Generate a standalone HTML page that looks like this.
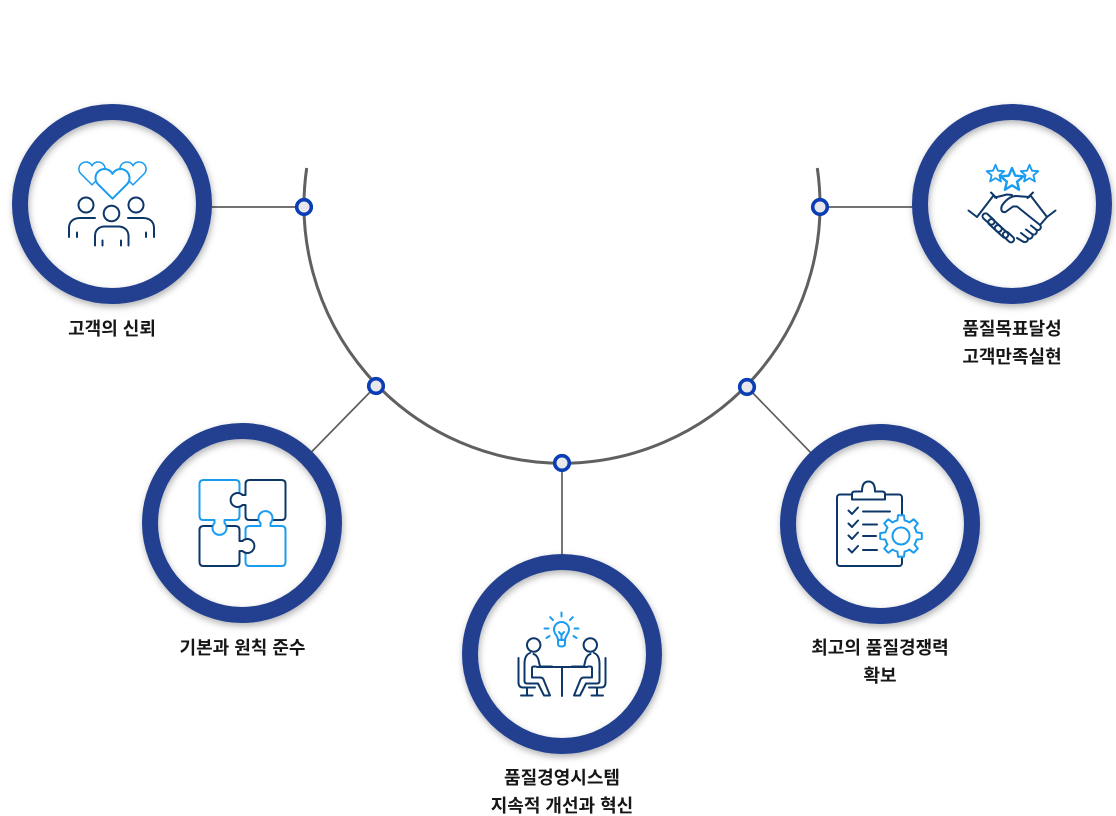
<!DOCTYPE html>
<html>
<head>
<meta charset="utf-8">
<style>
  html,body{margin:0;padding:0;background:#fff;}
  body{width:1116px;height:816px;overflow:hidden;}
  svg{display:block;}
  .lbl{font-family:"Liberation Sans","Noto Sans CJK KR",sans-serif;font-weight:700;font-size:18px;fill:#161616;}
  .nv{fill:none;stroke:#0d3768;stroke-width:2;stroke-linecap:round;stroke-linejoin:round;}
  .bl{fill:none;stroke:#1a9cf0;stroke-width:2;stroke-linecap:round;stroke-linejoin:round;}
</style>
</head>
<body>
<svg width="1116" height="816" viewBox="0 0 1116 816" xmlns="http://www.w3.org/2000/svg">
  <defs>
    <filter id="sh" x="-25%" y="-25%" width="150%" height="150%">
      <feDropShadow dx="1" dy="3" stdDeviation="3.5" flood-color="#000" flood-opacity="0.3"/>
    </filter>
    <path id="heart" d="M0,29.7 L-14.36,15.36 A9,9 0 1 1 0,4.88 A9,9 0 1 1 14.36,15.36 Z"/>
    <path id="star" d="M0,-10 L2.65,-3.64 L9.51,-3.09 L4.28,1.39 L5.88,8.09 L0,4.5 L-5.88,8.09 L-4.28,1.39 L-9.51,-3.09 L-2.65,-3.64 Z"/>
  </defs>

  <!-- main arc -->
  <path d="M306.7,168 A258,258 0 1 0 817.3,168" fill="none" stroke="#606060" stroke-width="3"/>

  <!-- connectors -->
  <g stroke="#5e5e5e" stroke-width="1.7" fill="none">
    <line x1="150" y1="207" x2="304" y2="207"/>
    <line x1="820" y1="207" x2="990" y2="207"/>
    <line x1="376" y1="386" x2="242" y2="523"/>
    <line x1="747" y1="387" x2="880" y2="524"/>
    <line x1="562" y1="463" x2="562" y2="600"/>
  </g>

  <!-- circles -->
  <g>
    <circle cx="112" cy="204" r="90" fill="#fff"/>
    <circle cx="112" cy="204" r="92" fill="none" stroke="#213f8f" stroke-width="16" filter="url(#sh)"/>
    <circle cx="1012" cy="204" r="90" fill="#fff"/>
    <circle cx="1012" cy="204" r="92" fill="none" stroke="#213f8f" stroke-width="16" filter="url(#sh)"/>
    <circle cx="242" cy="523" r="90" fill="#fff"/>
    <circle cx="242" cy="523" r="92" fill="none" stroke="#213f8f" stroke-width="16" filter="url(#sh)"/>
    <circle cx="562" cy="654" r="90" fill="#fff"/>
    <circle cx="562" cy="654" r="92" fill="none" stroke="#213f8f" stroke-width="16" filter="url(#sh)"/>
    <circle cx="880" cy="524" r="90" fill="#fff"/>
    <circle cx="880" cy="524" r="92" fill="none" stroke="#213f8f" stroke-width="16" filter="url(#sh)"/>
  </g>

  <!-- dots -->
  <g fill="#e8e8ec" stroke="#0b3db4" stroke-width="3.6">
    <circle cx="304" cy="207" r="7.3"/>
    <circle cx="820" cy="207" r="7.3"/>
    <circle cx="376" cy="386" r="7.3"/>
    <circle cx="747" cy="387" r="7.3"/>
    <circle cx="562" cy="463" r="7.3"/>
  </g>

  <!-- Icon 1: people & hearts -->
  <g>
    <use href="#heart" class="bl" style="fill:#fff" transform="translate(92,162) scale(0.77)" stroke-width="2.6"/>
    <use href="#heart" class="bl" style="fill:#fff" transform="translate(133,162) scale(0.77)" stroke-width="2.6"/>
    <use href="#heart" class="bl" style="fill:#fff" transform="translate(112.5,169)"/>
    <circle class="nv" cx="86" cy="205" r="7.5"/>
    <circle class="nv" cx="136" cy="205" r="7.5"/>
    <circle class="nv" cx="111.5" cy="213.5" r="7.8"/>
    <path class="nv" d="M69,237 V228 C69,222 73,218 80,218 H95"/>
    <path class="nv" d="M154,237 V228 C154,222 150,218 143,218 H128"/>
    <path class="nv" d="M95,245.5 V236 C95,230 99,226.5 105,226.5 H118 C124,226.5 128.5,230 128.5,236 V245.5"/>
    <path class="nv" d="M77,232.5 V237 M146,232.5 V237 M102.5,240.5 V245.5 M121,240.5 V245.5"/>
  </g>

  <!-- Icon 2: handshake & stars -->
  <g>
    <use href="#star" class="bl" transform="translate(995.5,174) scale(0.92)" stroke-width="2.2"/>
    <use href="#star" class="bl" transform="translate(1029.5,174) scale(0.92)" stroke-width="2.2"/>
    <use href="#star" class="bl" transform="translate(1012,180) scale(1.2)" stroke-width="1.7"/>
    <path class="nv" d="M968.5,210.5 L977,217 L993.5,195.5 M991,192.5 L996.5,198"/>
    <path class="nv" d="M1055.5,210.5 L1047,217 L1030.5,195.5 M1033,192.5 L1027.5,198"/>
    <path class="nv" d="M995,197.5 L1007,194.5 L1012,195"/>
    <path class="nv" d="M1029,197 L1016,196 C1011,196 1007,199 1003,204 C1000,208 1001,213 1005.5,212 L1013,206.5 L1017,206.5 L1040,225 C1042.5,228 1039,231.5 1036,229.5 L1031,225.5 M1036,229.5 C1038.5,232.5 1035,236 1032,234 L1026,229.5 M1032,234 C1034,237 1030.5,240 1027.5,238 L1021,233 M1027.5,238 C1029,241 1025.5,243.5 1022,241 L1017,238"/>
    <path class="nv" d="M1040,225 L1047,217"/>
    <rect class="nv" x="-7" y="-3" width="14" height="6" rx="3" transform="translate(988.5,219) rotate(42)"/>
    <rect class="nv" x="-8" y="-3" width="16" height="6" rx="3" transform="translate(995,225.5) rotate(42)"/>
    <rect class="nv" x="-8" y="-3" width="16" height="6" rx="3" transform="translate(1001.5,231.5) rotate(42)"/>
    <rect class="nv" x="-6.5" y="-3" width="13" height="6" rx="3" transform="translate(1008.5,237) rotate(42)"/>
  </g>

  <!-- Icon 3: puzzle -->
  <g transform="translate(199.5,480)">
    <path class="bl" d="M40,28 V36 Q40,40 36,40 H25 V43 A7,7 0 1 1 15,43 V40 H4 Q0,40 0,36 V4 Q0,0 4,0 H36 Q40,0 40,4 V12"/>
    <path class="nv" d="M74,40 H82 Q86,40 86,36 V4 Q86,0 82,0 H50 Q46,0 46,4 V15 H43 A7,7 0 1 0 43,25 H46 V36 Q46,40 50,40 H58"/>
    <path class="bl" d="M46,74 V82 Q46,86 50,86 H82 Q86,86 86,82 V50 Q86,46 82,46 H71 V43 A7,7 0 1 0 61,43 V46 H50 Q46,46 46,50 V58"/>
    <path class="nv" d="M28,46 H36 Q40,46 40,50 V61 H43 A7,7 0 1 1 43,71 H40 V82 Q40,86 36,86 H4 Q0,86 0,82 V50 Q0,46 4,46 H12"/>
  </g>

  <!-- Icon 4: meeting -->
  <g>
    <path class="bl" d="M558,640 C558,636 554,634 554,629.5 A7.5,7.5 0 1 1 569,629.5 C569,634 565,636 565,640 Z"/>
    <path class="bl" d="M558,640 V644 Q558,646.5 561.5,646.5 Q565,646.5 565,644 V640"/>
    <path class="bl" d="M559,632 L561.5,635 L564,632 M561.5,635 V640"/>
    <path class="bl" d="M561.5,612.5 V616.5 M570,620 L572.8,617.2 M553,620 L550.2,617.2 M574.5,628.5 H578.5 M548.5,628.5 H544.5 M573.5,636 L576.5,638 M549.5,636 L546.5,638"/>
    <g id="lp">
      <circle class="nv" cx="533.7" cy="645" r="6.7"/>
      <path class="nv" d="M530,653 C526,654.5 524.5,658.5 524.5,664 V681 Q524.5,683.5 527,683.5 H538 L544,695.5 H550 L543.5,679.5 Q542.5,677.5 540,677.5 H532 V668 Q532,666.5 534,666.5 H536"/>
      <path class="nv" d="M533.5,654 Q537,655 538.5,660 L540,666.5 H552"/>
      <path class="nv" d="M518.5,658 V682.5 Q518.5,687.5 523,687.5 H535 M527,687.5 V695 M521,695.5 H532.5"/>
    </g>
    <use href="#lp" transform="matrix(-1 0 0 1 1124 0)"/>
    <path class="nv" d="M537,667 H587 M562,667 V696"/>
  </g>

  <!-- Icon 5: clipboard & gear -->
  <g>
    <rect class="nv" x="837" y="494.5" width="65" height="71.5" rx="3"/>
    <path class="nv" style="fill:#fff" d="M852,499.5 V494 Q852,491.5 855,491.5 H862 C862,484 864.5,481.5 868.5,481.5 C872.5,481.5 875,484 875,491.5 H882 Q885,491.5 885,494 V499.5 Z"/>
    <path class="nv" d="M848.5,510.5 L852,514 L858,507.5 M848.5,523.5 L852,527 L858,520.5 M848.5,535.5 L852,539 L858,532.5 M848.5,549 L852,552.5 L858,546"/>
    <path class="nv" d="M863,511.5 H890 M863,524.5 H877 M863,536 H876 M863,550 H877"/>
    <g transform="translate(901,536)">
      <path class="bl" style="fill:#fff" d="M15.59,-3.60 L20.80,-2.92 L20.80,2.92 L15.59,3.60 A16,16 0 0 1 13.57,8.48 L16.77,12.64 L12.64,16.77 L8.48,13.57 A16,16 0 0 1 3.60,15.59 L2.92,20.80 L-2.92,20.80 L-3.60,15.59 A16,16 0 0 1 -8.48,13.57 L-12.64,16.77 L-16.77,12.64 L-13.57,8.48 A16,16 0 0 1 -15.59,3.60 L-20.80,2.92 L-20.80,-2.92 L-15.59,-3.60 A16,16 0 0 1 -13.57,-8.48 L-16.77,-12.64 L-12.64,-16.77 L-8.48,-13.57 A16,16 0 0 1 -3.60,-15.59 L-2.92,-20.80 L2.92,-20.80 L3.60,-15.59 A16,16 0 0 1 8.48,-13.57 L12.64,-16.77 L16.77,-12.64 L13.57,-8.48 A16,16 0 0 1 15.59,-3.60 Z"/>
      <circle class="bl" cx="0" cy="0" r="8.5"/>
    </g>
  </g>

  <!-- labels -->
  <g class="lbl" text-anchor="middle">
    <text x="112" y="335">고객의 신뢰</text>
    <text x="1012" y="335">품질목표달성</text>
    <text x="1012" y="363">고객만족실현</text>
    <text x="242.5" y="654">기본과 원칙 준수</text>
    <text x="880" y="654">최고의 품질경쟁력</text>
    <text x="880" y="682">확보</text>
    <text x="562" y="784">품질경영시스템</text>
    <text x="562" y="812">지속적 개선과 혁신</text>
  </g>
</svg>
</body>
</html>
